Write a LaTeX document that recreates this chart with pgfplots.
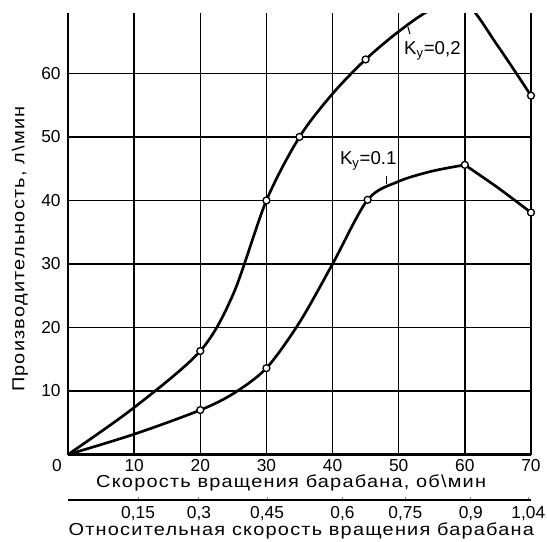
\documentclass[border=0pt]{standalone}
\usepackage{fontspec}
\setmainfont{Liberation Sans}
\newfontfamily\widefont[FakeStretch=1.15,LetterSpace=7]{Liberation Sans}
\newcommand\lab[1]{{\widefont\fontsize{13}{15}\selectfont #1}}
\usepackage{pgfplots}
\pgfplotsset{compat=1.18}

\begin{document}
\begin{tikzpicture}
\useasboundingbox (-51pt,-65.6pt) rectangle (359.25pt,340.9pt);
\begin{axis}[
  at={(0,0)}, anchor=south west,
  scale only axis, width=347.25pt, height=331.1pt,
  xmin=0, xmax=70, ymin=0, ymax=69.5,
  axis lines=left, axis line style={-, line width=2pt},
  xtick={0,10,...,70},
  xticklabels={\llap{0\kern4.7pt},10,20,30,40,50,60,70},
  ytick={10,20,...,60},
  major tick length=0pt,
  grid=major, grid style={black, line width=1pt},
  tick label style={font=\fontsize{13}{15}\selectfont},
  /pgf/number format/assume math mode=true,
  yticklabel style={xshift=-2pt},
  xlabel={\lab{Скорость вращения барабана, об\textbackslash мин}},
  ylabel={\lab{Производительность, л\textbackslash мин}},
  every axis x label/.style={at={(axis description cs:0.482,-0.0646)}, anchor=center},
  every axis y label/.style={at={(axis description cs:-0.1037,0.465)}, rotate=90, anchor=center},
  clip=true,
]
% K = 0,2 curve
\addplot[black, line width=2pt, smooth] coordinates {
  (0,0) (10,7.4) (20,16.3) (25,25.3) (30,40) (35,50) (40,56.8)
  (45,62.2) (50,66.6) (55,70.1) (60,71.2) (65,64.3) (70,56.5)};
% K = 0.1 curve
\addplot[black, line width=2pt, smooth] coordinates {
  (0,0) (10,3.2) (20,7) (25,9.6) (30,13.6) (35,20.8) (40,30) (45.3,40.1)
  (50,43) (55,44.6) (60,45.6)};
\addplot[black, line width=2pt, smooth] coordinates {
  (60,45.6) (65,42) (70,38.1)};
% measured points
\addplot[only marks, mark=*, mark size=2.6pt, mark options={fill=white, draw=black, line width=1pt}]
  coordinates {(20,16.3) (30,40) (35,50) (45,62.2) (70,56.5)};
\addplot[only marks, mark=*, mark size=2.6pt, mark options={fill=white, draw=black, line width=1pt}]
  coordinates {(20,7) (30,13.6) (45.3,40.1) (60,45.6) (70,38.1)};
\node[font=\fontsize{14}{16}\selectfont] at (axis cs:55.1,63.6) {K\textsubscript{у}=0,2};
\node[font=\fontsize{14}{16}\selectfont] at (axis cs:45.4,46.2) {K\textsubscript{у}=0.1};
\draw[line width=0.8pt] (axis cs:51.4,67.3) -- (axis cs:51.7,66.2);
\draw[line width=0.8pt] (axis cs:48.1,43.8) -- (axis cs:48.1,42.6);
\end{axis}
\begin{axis}[
  at={(0,-34.1pt)}, anchor=south west,
  scale only axis, width=347.25pt, height=1pt,
  xmin=0, xmax=70, ymin=0, ymax=1,
  axis x line=bottom, axis y line=none,
  axis line style={-, line width=1.3pt},
  xtick={10.6,19.8,30.1,41.5,51,60.9,69.6},
  xticklabels={{0,15},{0,3},{0,45},{0,6},{0,75},{0,9},{1,04}},
  tick align=inside, major tick length=2pt, major tick style={line width=0.8pt},
  tick label style={font=\fontsize{13}{15}\selectfont, inner sep=0pt, yshift=-4.5pt},
  xlabel={\lab{Относительная скорость вращения барабана}},
  every axis x label/.style={at={(axis description cs:0.504,0)}, anchor=north, inner sep=0pt, yshift=-17pt},
]
\end{axis}
\end{tikzpicture}
\end{document}
